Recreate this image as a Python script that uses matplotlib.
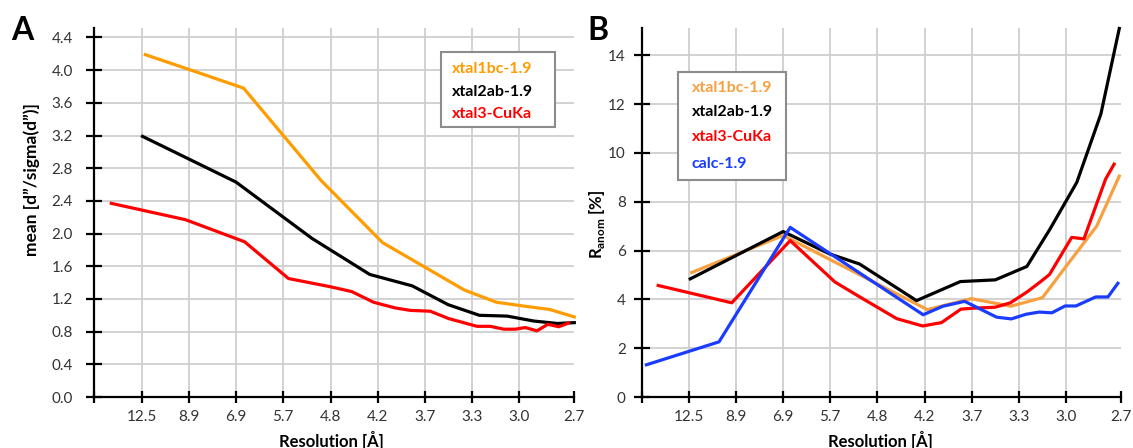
import numpy as np
import matplotlib
matplotlib.use("Agg")
import matplotlib.pyplot as plt
from matplotlib.patches import Rectangle

plt.rcParams['font.family'] = ['Lato', 'DejaVu Sans']
plt.rcParams['mathtext.fontset'] = 'custom'
plt.rcParams['mathtext.rm'] = 'Lato'
plt.rcParams['mathtext.bf'] = 'Lato:bold'

# resolution bins (categorical positions on the x axis)
tick_pos = [0, 1, 2, 3, 4, 5, 6, 7, 8, 9, 10.16]
tick_lab = ['', '12.5', '8.9', '6.9', '5.7', '4.8', '4.2', '3.7', '3.3', '3.0', '2.7']

# panel A: mean d''/sigma(d'')
a_orange_x = [1.08, 2.0, 3.16, 4.8, 6.1, 7.83, 8.51, 9.0, 9.65, 10.16]
a_orange_y = [4.19, 4.01, 3.78, 2.65, 1.89, 1.31, 1.16, 1.12, 1.07, 0.98]
a_black_x = [1.02, 3.0, 4.61, 5.83, 6.73, 7.49, 8.15, 8.74, 9.3, 9.8, 10.16]
a_black_y = [3.19, 2.63, 1.94, 1.50, 1.36, 1.13, 1.0, 0.99, 0.93, 0.90, 0.91]
a_red_x = [0.36, 1.93, 3.18, 4.11, 4.99, 5.45, 5.91, 6.37, 6.69, 7.11, 7.5, 8.1,
           8.38, 8.67, 8.91, 9.12, 9.37, 9.6, 9.83, 10.04]
a_red_y = [2.37, 2.17, 1.90, 1.45, 1.35, 1.29, 1.16, 1.09, 1.06, 1.05, 0.96, 0.865,
           0.865, 0.83, 0.83, 0.85, 0.81, 0.89, 0.86, 0.905]

# panel B: R_anom [%]
b_orange_x = [1.06, 3.0, 6.06, 6.99, 7.83, 8.5, 9.0, 9.65, 10.13]
b_orange_y = [5.1, 6.62, 3.58, 4.03, 3.72, 4.07, 5.35, 7.0, 9.05]
b_black_x = [1.03, 3.0, 3.99, 4.62, 5.83, 6.76, 7.5, 8.17, 8.66, 9.23, 9.74, 10.13]
b_black_y = [4.84, 6.78, 5.86, 5.45, 3.95, 4.73, 4.80, 5.35, 6.88, 8.8, 11.6, 15.1]
b_red_x = [0.35, 1.91, 3.15, 4.1, 4.67, 5.41, 5.96, 6.36, 6.77, 7.04, 7.5, 7.82,
           8.17, 8.45, 8.65, 9.12, 9.38, 9.84, 10.02]
b_red_y = [4.57, 3.86, 6.41, 4.71, 4.05, 3.21, 2.91, 3.05, 3.6, 3.64, 3.68, 3.86,
           4.3, 4.71, 5.02, 6.54, 6.48, 8.93, 9.54]
b_blue_x = [0.1, 1.64, 3.15, 5.97, 6.39, 6.85, 7.53, 7.84, 8.15, 8.43, 8.7, 8.98,
            9.21, 9.63, 9.89, 10.1]
b_blue_y = [1.32, 2.26, 6.95, 3.37, 3.72, 3.92, 3.27, 3.2, 3.39, 3.48, 3.45, 3.73,
            3.73, 4.1, 4.1, 4.66]

names_a = ['xtal1bc-1.9', 'xtal2ab-1.9', 'xtal3-CuKa']
names_b = ['xtal1bc-1.9', 'xtal2ab-1.9', 'xtal3-CuKa', 'calc-1.9']

W, H = 1133, 448
fig = plt.figure(figsize=(W/100, H/100), dpi=100)

def frac(x0, x1, ytop, ybot):
    return [x0/W, 1-ybot/H, (x1-x0)/W, (ybot-ytop)/H]

axA = fig.add_axes(frac(94.3, 574.3, 28.5, 397))
axB = fig.add_axes(frac(641.7, 1120.7, 28.5, 397))

def style(ax, ymax, yticks, ylabels, ypad):
    ax.set_xlim(0, 10.16)
    ax.set_ylim(0, ymax)
    ax.set_xticks(tick_pos)
    ax.set_xticklabels(tick_lab)
    ax.set_yticks(yticks)
    ax.set_yticklabels(ylabels)
    ax.grid(True, color='#cfcfcf', lw=1.3, zorder=0)
    ax.set_axisbelow(True)
    ax.xaxis.get_gridlines()[-1].set_visible(False)
    for s in ['top', 'right']:
        ax.spines[s].set_visible(False)
    for s in ['left', 'bottom']:
        ax.spines[s].set_linewidth(1.6)
    ax.tick_params(axis='x', direction='inout', length=8.5, width=1.6, pad=5,
                   labelsize=11, labelcolor='#333333')
    ax.tick_params(axis='y', direction='inout', length=11, width=1.6, pad=ypad,
                   labelsize=11, labelcolor='#333333')

style(axA, 4.51, np.arange(0, 4.41, 0.4), ['%.1f' % v for v in np.arange(0, 4.41, 0.4)], 10)
style(axB, 15.1, range(0, 15, 2), [str(v) for v in range(0, 15, 2)], 6)

lw = 2.3
axA.plot(a_orange_x, a_orange_y, color='#ff9c00', lw=lw, clip_on=False, zorder=3)
axA.plot(a_black_x, a_black_y, color='black', lw=lw, clip_on=False, zorder=3)
axA.plot(a_red_x, a_red_y, color='#ff0000', lw=lw, clip_on=False, zorder=3)

axB.plot(b_orange_x, b_orange_y, color='#f7a040', lw=lw, clip_on=False, zorder=3)
axB.plot(b_black_x, b_black_y, color='black', lw=lw, clip_on=False, zorder=3)
axB.plot(b_red_x, b_red_y, color='#ff0000', lw=lw, clip_on=False, zorder=3)
axB.plot(b_blue_x, b_blue_y, color='#1a3cff', lw=lw, clip_on=False, zorder=3)

# legends drawn as coloured text in a grey box
colA = ['#ff9c00', 'black', '#ff0000']
colB = ['#f7a040', 'black', '#ff0000', '#1a3cff']
axA.add_patch(Rectangle((0.722, 0.733), 0.237, 0.204, transform=axA.transAxes,
                        fill=True, facecolor='white', edgecolor='#8c8c8c', lw=1.5, zorder=5))
for name, c, y in zip(names_a, colA, [0.889, 0.828, 0.768]):
    axA.text(0.746, y, name, color=c, transform=axA.transAxes, fontsize=11.5,
             fontweight='bold', va='center', ha='left', zorder=6)
axB.add_patch(Rectangle((0.0764, 0.589), 0.2253, 0.294, transform=axB.transAxes,
                        fill=True, facecolor='white', edgecolor='#8c8c8c', lw=1.5, zorder=5))
for name, c, y in zip(names_b, colB, [0.8385, 0.774, 0.706, 0.6315]):
    axB.text(0.1044, y, name, color=c, transform=axB.transAxes, fontsize=11.5,
             fontweight='bold', va='center', ha='left', zorder=6)

# labels
fig.text(22/W, 1-31/H, 'A', fontsize=23, fontweight='bold', ha='center', va='center')
fig.text(598/W, 1-31/H, 'B', fontsize=23, fontweight='bold', ha='center', va='center')
fig.text(32/W, 1-180/H, 'mean [d\u201d/sigma(d\u201d)]', rotation=90, fontsize=12.5,
         fontweight='bold', ha='center', va='center')
fig.text(597/W, 1-224/H, r'$\mathbf{R}_{\mathbf{anom}}$ [%]', rotation=90, fontsize=12,
         fontweight='bold', ha='center', va='center')
fig.text(331.7/W, 1-440/H, 'Resolution [\u00c5]', fontsize=12, fontweight='bold',
         ha='center', va='center')
fig.text(880/W, 1-440/H, 'Resolution [\u00c5]', fontsize=12, fontweight='bold',
         ha='center', va='center')

fig.savefig('out.png', dpi=100)
